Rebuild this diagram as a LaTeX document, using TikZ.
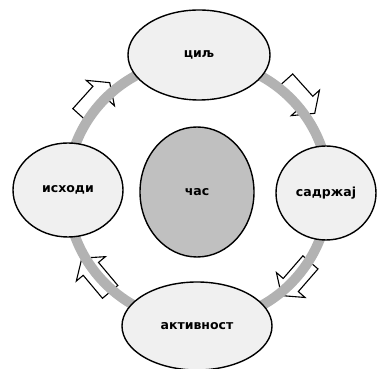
\documentclass[tikz,border=0pt]{standalone}
\usepackage{fontspec}
\setmainfont{DejaVu Sans}
\usetikzlibrary{shapes.geometric}
\begin{document}
\begin{tikzpicture}[x=1pt,y=1pt,
  oval/.style={ellipse, draw=black, line width=1.4pt, fill=ovalfill, inner sep=0pt, font=\fontsize{12.5}{14}\selectfont\bfseries},
  blockar/.style={draw=black, line width=1.1pt, fill=white, line join=miter},
  ring/.style={draw=ringgray, line width=10pt}]
\definecolor{ovalfill}{RGB}{240,240,240}
\definecolor{ringgray}{RGB}{178,178,178}
\definecolor{centerfill}{RGB}{192,192,192}
\useasboundingbox (0,0) rectangle (378,369);
% arrows
\draw[blockar, shift={(95,270)}, rotate=48] (-22,-10) -- (8,-10) -- (8,-19) -- (22,0) -- (8,19) -- (8,10) -- (-22,10) -- cycle;
\draw[blockar, shift={(300,272)}, rotate=-48] (-22,-10) -- (8,-10) -- (8,-19) -- (22,0) -- (8,19) -- (8,10) -- (-22,10) -- cycle;
\draw[blockar, shift={(296,90)}, rotate=-131] (-22,-10) -- (8,-10) -- (8,-19) -- (22,0) -- (8,19) -- (8,10) -- (-22,10) -- cycle;
\draw[blockar, shift={(96,94)}, rotate=130] (-22,-10) -- (8,-10) -- (8,-19) -- (22,0) -- (8,19) -- (8,10) -- (-22,10) -- cycle;
% ring
\coordinate (rc) at (198,178);
\draw[ring] (rc) circle[radius=131];
% nodes
\node[oval, minimum width=142, minimum height=90] (cil) at (199,314) {циљ};
\node[oval, minimum width=110, minimum height=94] (ishodi) at (68,179) {исходи};
\node[oval, minimum width=100, minimum height=94] (sadrzaj) at (326,176) {садржај};
\node[oval, minimum width=150, minimum height=88] (aktivnost) at (197,43) {активност};
\node[oval, fill=centerfill, minimum width=114, minimum height=130] (cas) at (197,177) {час};
\end{tikzpicture}
\end{document}
